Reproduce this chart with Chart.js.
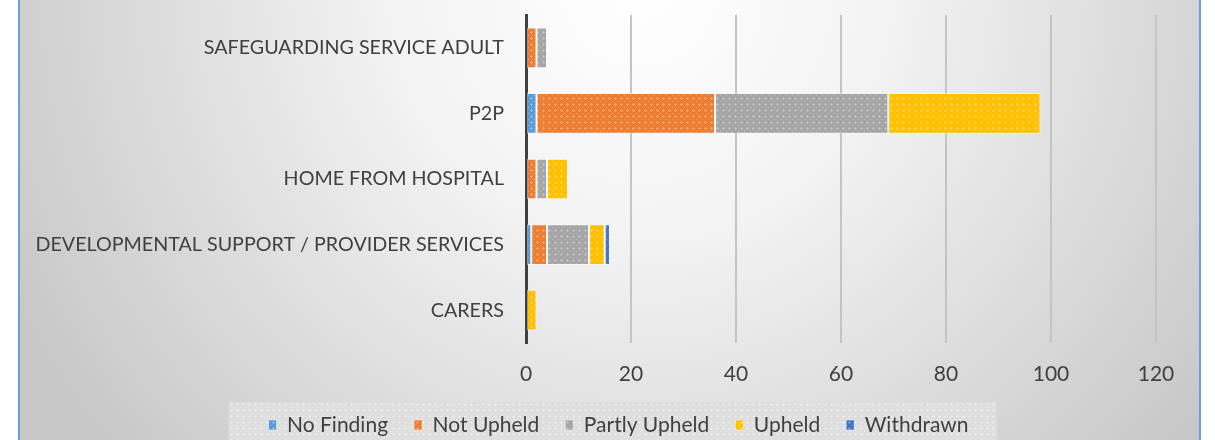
<!DOCTYPE html>
<html>
<head>
<meta charset="utf-8">
<script src="https://cdn.jsdelivr.net/npm/chart.js@4.4.1/dist/chart.umd.min.js"></script>
<style>
  html, body { margin: 0; padding: 0; background: #ffffff; }
  #complaintsChart { display: block; }
</style>
</head>
<body>
<canvas id="complaintsChart" width="1215" height="440"></canvas>
<script>
// Chart data
const categories = [
  "SAFEGUARDING SERVICE ADULT",
  "P2P",
  "HOME FROM HOSPITAL",
  "DEVELOPMENTAL SUPPORT / PROVIDER SERVICES",
  "CARERS",
];
const noFinding = [0, 2, 0, 1, 0];
const notUpheld = [2, 34, 2, 3, 0];
const partlyUpheld = [2, 33, 2, 8, 0];
const upheld = [0, 29, 4, 3, 2];
const withdrawn = [0, 0, 0, 1, 0];
const xTicks = [0, 20, 40, 60, 80, 100, 120];

const FONT = "Lato";
const TEXT = "#404040";

// small textured fill like the office pattern fills
function makePattern(color, light) {
  const c = document.createElement("canvas");
  c.width = 6;
  c.height = 6;
  const g = c.getContext("2d");
  g.fillStyle = color;
  g.fillRect(0, 0, 6, 6);
  g.fillStyle = light || "rgba(255,255,255,0.3)";
  g.fillRect(3, 1, 1, 1);
  g.fillRect(2, 2, 3, 1);
  g.fillRect(3, 3, 1, 1);
  g.fillRect(0, 5, 1, 1);
  return g.createPattern(c, "repeat");
}

// page background, blue frame and legend strip
const backgroundPlugin = {
  id: "backgroundPlugin",
  beforeDraw(chart) {
    const ctx = chart.ctx;
    const w = chart.width;
    const h = chart.height;
    ctx.save();
    ctx.fillStyle = "#ffffff";
    ctx.fillRect(0, 0, w, h);

    const grad = ctx.createRadialGradient(640, -10, 0, 640, -10, 700);
    grad.addColorStop(0, "#ffffff");
    grad.addColorStop(0.35, "#f3f3f3");
    grad.addColorStop(1, "#c8c8c8");
    ctx.fillStyle = grad;
    ctx.fillRect(18, 0, 1182, h);

    ctx.strokeStyle = "#6a9fd8";
    ctx.lineWidth = 2;
    ctx.beginPath();
    ctx.moveTo(19, 0);
    ctx.lineTo(19, h);
    ctx.moveTo(1200, 0);
    ctx.lineTo(1200, h);
    ctx.stroke();

    // legend strip
    const boxes = chart.legend && chart.legend.legendHitBoxes;
    if (boxes && boxes.length) {
      let l = Infinity;
      let r = -Infinity;
      boxes.forEach((b) => {
        l = Math.min(l, b.left);
        r = Math.max(r, b.left + b.width);
      });
      ctx.fillStyle = makePattern("#dedede", "rgba(255,255,255,0.35)");
      ctx.fillRect(l - 40, 402, r - l + 68, h - 402);
    }
    ctx.restore();
  },
};

function renderChart() {
  const ctx = document.getElementById("complaintsChart");

  const series = [
    { label: "No Finding", data: noFinding, color: "#5b9bd5" },
    { label: "Not Upheld", data: notUpheld, color: "#ed7d31" },
    { label: "Partly Upheld", data: partlyUpheld, color: "#a5a5a5" },
    { label: "Upheld", data: upheld, color: "#ffc000" },
    { label: "Withdrawn", data: withdrawn, color: "#4472c4" },
  ];

  new Chart(ctx, {
    type: "bar",
    data: {
      labels: categories,
      datasets: series.map((s) => ({
        label: s.label,
        data: s.data,
        backgroundColor: makePattern(s.color),
        borderColor: "rgba(255,255,255,0.45)",
        borderWidth: 1,
        borderSkipped: false,
        barPercentage: 0.62,
        categoryPercentage: 1,
      })),
    },
    options: {
      indexAxis: "y",
      responsive: false,
      animation: false,
      layout: {
        padding: { left: 22, right: 0, top: 15, bottom: -5.5 },
      },
      scales: {
        x: {
          stacked: true,
          min: 0,
          max: 120,
          afterBuildTicks(scale) {
            scale.ticks = xTicks.map((v) => ({ value: v }));
          },
          // leaves the plot bottom at the same place as the original
          afterFit(scale) {
            scale.height = 45.5;
          },
          grid: {
            color: "#c4c4c4",
            lineWidth: 2,
            drawTicks: false,
          },
          border: { display: false },
          ticks: {
            padding: 19,
            color: TEXT,
            font: { family: FONT, size: 21 },
          },
        },
        y: {
          stacked: true,
          afterFit(scale) {
            scale.width = 504;
            // label padding should not push the plot down
            scale.paddingTop = 0;
            scale.paddingBottom = 0;
          },
          grid: { display: false, drawTicks: false },
          border: { display: true, color: "#404040", width: 3 },
          ticks: {
            padding: 22,
            color: TEXT,
            font: { family: FONT, size: 19.7 },
          },
        },
        // empty right-hand axis only to keep the plot clear of the frame
        yRight: {
          position: "right",
          afterFit(scale) {
            scale.width = 59;
          },
          grid: { display: false, drawTicks: false },
          border: { display: false },
          ticks: { display: false },
        },
      },
      plugins: {
        legend: {
          position: "bottom",
          labels: {
            boxWidth: 8,
            boxHeight: 10,
            padding: 26,
            color: TEXT,
            font: { family: FONT, size: 21 },
          },
        },
        tooltip: { enabled: false },
      },
    },
    plugins: [backgroundPlugin],
  });
}

renderChart();
</script>
</body>
</html>
